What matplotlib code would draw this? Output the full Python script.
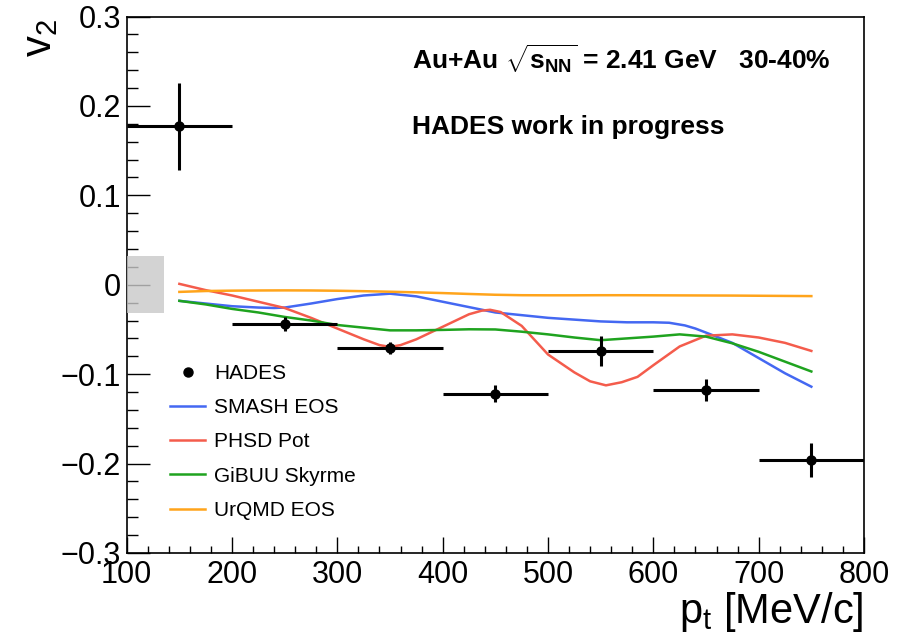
#!/usr/bin/env python3
"""
v2 vs pt for Au+Au at 2.41 GeV (30-40%), HADES points against transport models.

Output:
  - out.png
"""

import matplotlib

matplotlib.use("Agg")
import matplotlib.pyplot as plt
from matplotlib.lines import Line2D
from matplotlib.patches import Rectangle
from matplotlib.ticker import MultipleLocator


# HADES data points (bin centre, v2, stat. error), bins are 100 MeV/c wide
pt_bins = [150, 250, 350, 450, 550, 650, 750]
pt_halfwidth = [50, 50, 50, 50, 50, 50, 50]
v2_hades = [0.177, -0.044, -0.071, -0.122, -0.074, -0.118, -0.196]
v2_err = [0.049, 0.0075, 0.007, 0.0095, 0.017, 0.0125, 0.019]

# systematic band drawn at the left edge
sys_pt = [100, 135]
sys_v2 = [-0.032, 0.032]

# model curves
pt_model = [150, 175, 200, 225, 250, 275, 300, 325, 350, 375, 400, 425, 450,
            475, 500, 525, 550, 575, 600, 625, 650, 675, 700, 725, 750]
v2_gibuu = [-0.018, -0.022, -0.027, -0.031, -0.036, -0.040, -0.045, -0.048,
            -0.051, -0.051, -0.0505, -0.0498, -0.050, -0.0525, -0.0555,
            -0.059, -0.062, -0.060, -0.058, -0.0555, -0.058, -0.0655, -0.075,
            -0.086, -0.097]
v2_urqmd = [-0.008, -0.007, -0.0066, -0.0064, -0.0063, -0.0064, -0.0067,
            -0.0072, -0.0078, -0.0085, -0.0093, -0.0103, -0.0112, -0.0117,
            -0.0118, -0.0118, -0.0117, -0.0117, -0.0118, -0.0119, -0.012,
            -0.0121, -0.0123, -0.0125, -0.0127]
pt_smash = [150, 175, 200, 225, 240, 250, 275, 300, 325, 350, 375, 400, 425,
            450, 475, 500, 525, 550, 575, 600, 615, 630, 640, 650, 675, 700,
            725, 750]
v2_smash = [-0.018, -0.021, -0.024, -0.0255, -0.026, -0.0255, -0.021,
            -0.016, -0.012, -0.010, -0.013, -0.019, -0.025, -0.031, -0.034,
            -0.037, -0.039, -0.041, -0.042, -0.042, -0.0425, -0.0455, -0.049,
            -0.0535, -0.065, -0.082, -0.099, -0.114]
# PHSD oscillates, so it is sampled more finely around its turning points
pt_phsd = [150, 175, 200, 225, 250, 275, 300, 325, 340, 350, 360, 375, 400,
           425, 437, 445, 455, 475, 500, 525, 540, 555, 570, 585, 600, 625,
           650, 675, 700, 725, 750]
v2_phsd = [0.001, -0.006, -0.012, -0.019, -0.026, -0.037, -0.049, -0.061,
           -0.0675, -0.0695, -0.0675, -0.061, -0.047, -0.033, -0.029, -0.028,
           -0.0305, -0.046, -0.078, -0.098, -0.108, -0.1125, -0.109, -0.103,
           -0.090, -0.069, -0.057, -0.0555, -0.059, -0.065, -0.074]

models = [
    ("SMASH EOS", pt_smash, v2_smash, "#4468f2"),
    ("PHSD Pot", pt_phsd, v2_phsd, "#f45c4c"),
    ("GiBUU Skyrme", pt_model, v2_gibuu, "#1fa31f"),
    ("UrQMD EOS", pt_model, v2_urqmd, "#ffa41b"),
]


def main():
    plt.rcParams["font.family"] = ["Liberation Sans", "DejaVu Sans"]
    plt.rcParams["mathtext.fontset"] = "custom"
    plt.rcParams["mathtext.rm"] = "Liberation Sans"
    plt.rcParams["mathtext.it"] = "Liberation Sans"
    plt.rcParams["mathtext.bf"] = "Liberation Sans:bold"

    W, H = 910, 642
    fig = plt.figure(figsize=(W / 100, H / 100), dpi=100)
    x0, x1, y0, y1 = 126.7, 864, 16.5, 553
    ax = fig.add_axes([x0 / W, 1 - y1 / H, (x1 - x0) / W, (y1 - y0) / H])

    ax.set_xlim(100, 800)
    ax.set_ylim(-0.3, 0.3)

    # model predictions
    for label, xs, vals, color in models:
        ax.plot(xs, vals, color=color, lw=1.8, label=label, zorder=2,
                solid_joinstyle="round")

    # data with stat. errors
    ax.errorbar(pt_bins, v2_hades, xerr=pt_halfwidth, yerr=v2_err, fmt="o",
                color="black", ms=6.5, elinewidth=2.2, capsize=0, zorder=4)

    # systematic box
    ax.add_patch(Rectangle((sys_pt[0], sys_v2[0]), sys_pt[1] - sys_pt[0],
                           sys_v2[1] - sys_v2[0], facecolor="#c9c9c9",
                           edgecolor="none", alpha=0.8, zorder=3,
                           clip_on=False))

    # axes styling
    for side in ax.spines.values():
        side.set_linewidth(1.2)
    ax.xaxis.set_major_locator(MultipleLocator(100))
    ax.xaxis.set_minor_locator(MultipleLocator(20))
    ax.yaxis.set_major_locator(MultipleLocator(0.1))
    ax.yaxis.set_minor_locator(MultipleLocator(0.02))
    ax.tick_params(which="both", direction="in", top=False, right=False,
                   labelsize=22, width=1.0)
    ax.tick_params(axis="x", which="major", length=11.5, pad=5)
    ax.tick_params(axis="x", which="minor", length=5)
    ax.tick_params(axis="y", which="major", length=16.5, pad=4)
    ax.tick_params(axis="y", which="minor", length=8)
    ax.set_yticks([-0.3, -0.2, -0.1, 0, 0.1, 0.2, 0.3])
    ax.set_yticklabels(["\u22120.3", "\u22120.2", "\u22120.1", "0",
                        "0.1", "0.2", "0.3"])

    # axis titles, ROOT style (right / top aligned)
    fig.text(x1 / W, 1 - 623 / H, r"p$_\mathregular{t}$ [MeV/c]",
             ha="right", va="baseline", fontsize=30)
    fig.text(40 / W, 1 - 19 / H, r"v$_\mathregular{2}$", rotation=90,
             ha="center", va="top", fontsize=30)

    # header, placed in pixel units of the axes frame
    px = (y1 - y0) / 0.6
    hx = 100 + (412 - x0) / ((x1 - x0) / 700)
    ax.text(hx, 0.3 - (70 - y0) / px,
            r"Au+Au $\mathbf{\sqrt{s_{NN}}}$ = 2.41 GeV   30-40%",
            fontsize=19, fontweight="bold", ha="left", va="baseline")
    ax.text(hx, 0.3 - (134 - y0) / px,
            "HADES work in progress",
            fontsize=19, fontweight="bold", ha="left", va="baseline")

    handles = [Line2D([], [], ls="none", marker="o", color="black", ms=6.5)]
    handles += [Line2D([], [], color=m[3], lw=1.8) for m in models]
    labels = ["HADES"] + [m[0] for m in models]
    ax.legend(handles, labels, loc="upper left",
              bbox_to_anchor=(170 / W, 1 - 364 / H),
              bbox_transform=fig.transFigure, frameon=False, fontsize=15,
              borderpad=0, borderaxespad=0, handlelength=1.7,
              handletextpad=0.4, labelspacing=0.73)

    fig.savefig("out.png", dpi=100)
    plt.close(fig)
    return 0


if __name__ == "__main__":
    raise SystemExit(main())
